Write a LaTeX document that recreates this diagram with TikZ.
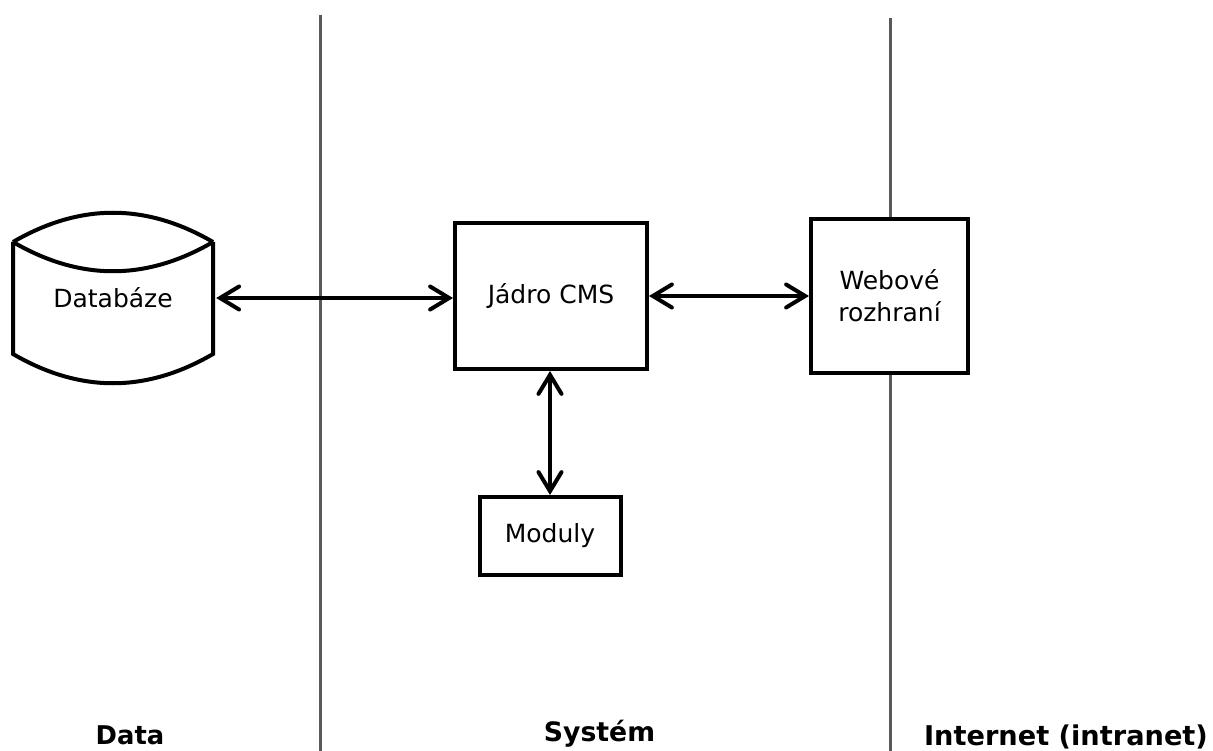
\documentclass[tikz,border=0pt]{standalone}
\usepackage{fontspec}
\setmainfont{DejaVu Sans}
\usetikzlibrary{arrows.meta}
\begin{document}
\begin{tikzpicture}[x=1pt,y=-1pt,
  every node/.style={font=\fontsize{25}{36}\selectfont},
  boxnode/.style={draw=black,line width=4pt,fill=white,inner sep=0pt,align=center},
  sepline/.style={draw=black!65,line width=3pt},
  link/.style={line width=4pt,{Straight Barb[length=19pt,width=23pt,line cap=round]}-{Straight Barb[length=19pt,width=23pt,line cap=round]}},
  lanelabel/.style={font=\fontsize{#1}{30}\selectfont\bfseries,anchor=base,inner sep=0pt}]
\useasboundingbox (0,0) rectangle (1213,751);
% lane separators
\coordinate (s1t) at (320,15);
\coordinate (s1b) at (320,751);
\coordinate (s2t) at (890,18);
\coordinate (s2b) at (890,751);
\draw[sepline] (s1t) -- (s1b);
\draw[sepline] (s2t) -- (s2b);
% database
\fill[white] (13,242) .. controls (80,203) and (146,203) .. (213,242) -- (213,354) .. controls (146,393) and (80,393) .. (13,354) -- cycle;
\draw[line width=4pt,line join=miter]
  (13,242) .. controls (80,203) and (146,203) .. (213,242)
  (13,242) .. controls (80,281) and (146,281) .. (213,242)
  (13,242) -- (13,354) .. controls (80,393) and (146,393) .. (213,354) -- (213,242);
\node[inner sep=0pt,minimum width=206pt,minimum height=20pt] (db) at (113,298) {Databáze};
% boxes
\node[boxnode,minimum width=192pt,minimum height=146pt] (jadro) at (551,296) {Jádro CMS};
\node[boxnode,minimum width=157pt,minimum height=154pt] (web) at (889.5,296) {Webové\\[-4pt]rozhraní};
\node[boxnode,minimum width=141pt,minimum height=78pt] (mod) at (550,536) {Moduly};
% connectors
\draw[link] (db.east) -- (db.east -| jadro.west);
\draw[link] (jadro.east) -- (web.west);
\draw[link] (mod.north |- jadro.south) -- (mod.north);
% lane labels
\node[lanelabel=25.8] (ldata) at (130,744) {Data};
\node[lanelabel=26.7] (lsys) at (599.5,741) {Systém};
\node[lanelabel=27.2] (lint) at (1066,745) {Internet (intranet)};
\end{tikzpicture}
\end{document}
